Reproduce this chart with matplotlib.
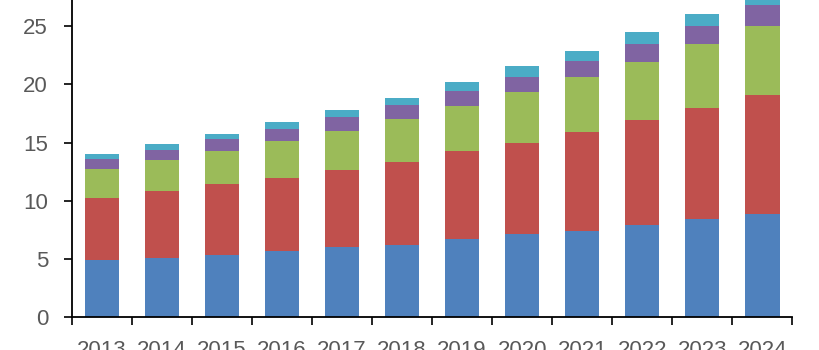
import matplotlib
matplotlib.use("Agg")
import matplotlib.pyplot as plt
import numpy as np

years = ["2013", "2014", "2015", "2016", "2017", "2018", "2019", "2020", "2021", "2022", "2023", "2024"]
s1 = [4.9, 5.05, 5.35, 5.65, 6.0, 6.25, 6.7, 7.15, 7.45, 7.9, 8.45, 8.9]
s2 = [5.3, 5.8, 6.1, 6.35, 6.65, 7.1, 7.55, 7.85, 8.5, 9.05, 9.5, 10.2]
s3 = [2.5, 2.65, 2.8, 3.1, 3.35, 3.7, 3.85, 4.3, 4.7, 5.0, 5.5, 5.95]
s4 = [0.9, 0.85, 1.05, 1.05, 1.2, 1.15, 1.3, 1.35, 1.35, 1.5, 1.6, 1.8]
s5 = [0.45, 0.5, 0.45, 0.6, 0.6, 0.65, 0.8, 0.9, 0.9, 1.0, 1.0, 1.0]
series = [s1, s2, s3, s4, s5]
colors = ["#4F81BD", "#C0504D", "#9BBB59", "#8064A2", "#4BACC6"]
yticks = [0, 5, 10, 15, 20, 25]

plt.rcParams['font.family'] = ['Liberation Sans', 'DejaVu Sans']

fig = plt.figure(figsize=(8.2, 3.5), dpi=100)
ax = fig.add_axes([0.0874, 0.0934, 0.879, 0.9066])

x = np.arange(len(years))
bottom = np.zeros(len(years))
for vals, c in zip(series, colors):
    ax.bar(x, vals, width=0.57, bottom=bottom, color=c, edgecolor='none')
    bottom += np.array(vals)

ax.set_xlim(-0.5, len(years) - 0.5)
ax.set_ylim(0, 27.24)

for s in ['top', 'right']:
    ax.spines[s].set_visible(False)
for s in ['left', 'bottom']:
    ax.spines[s].set_color('black')
    ax.spines[s].set_linewidth(1.3)

ax.set_yticks(yticks)
ax.set_yticklabels([str(v) for v in yticks])
ax.tick_params(axis='y', direction='out', length=6, width=1.2, color='black',
               labelsize=16, labelcolor='#595959', pad=11)

ax.set_xticks(np.arange(-0.5, len(years), 1.0))
ax.set_xticklabels([])
ax.tick_params(axis='x', which='major', direction='out', length=6, width=1.2, color='black')
ax.set_xticks(x, minor=True)
ax.set_xticklabels(years, minor=True)
ax.tick_params(axis='x', which='minor', length=0, labelsize=16, labelcolor='#595959', pad=16)

fig.savefig("out.png", dpi=100)
